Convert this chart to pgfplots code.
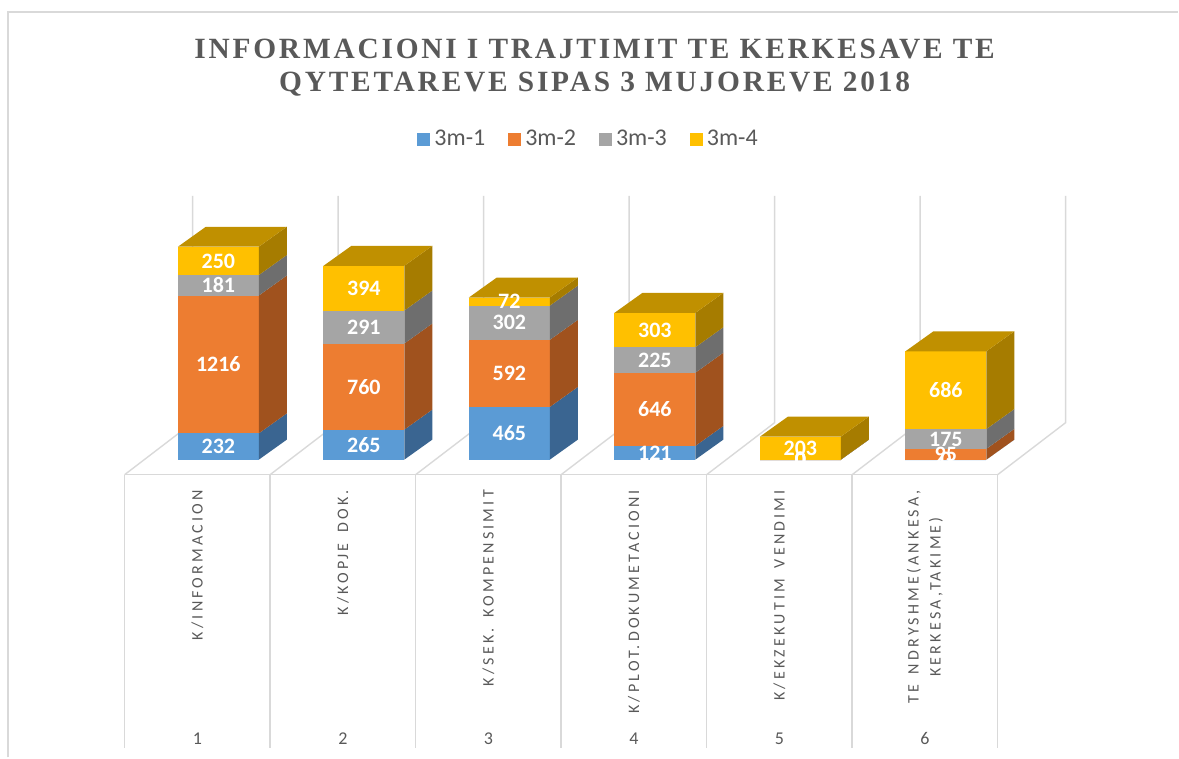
\documentclass[border=0pt]{standalone}
\usepackage{pgfplots}
\usepackage{pgfplotstable}
\pgfplotsset{compat=1.18}
\usepackage{fontspec}
\setmainfont{Carlito}
\newfontfamily\titlefont[LetterSpace=9.5]{Liberation Serif}
\newfontfamily\catfont[LetterSpace=20,WordSpace=1.6]{Carlito}

\definecolor{c1}{HTML}{5B9BD5}
\definecolor{c1s}{HTML}{3A6591}
\definecolor{c2}{HTML}{ED7D31}
\definecolor{c2s}{HTML}{A0521E}
\definecolor{c3}{HTML}{A5A5A5}
\definecolor{c3s}{HTML}{6E6E6E}
\definecolor{c4}{HTML}{FFC000}
\definecolor{c4s}{HTML}{A67C00}
\definecolor{c4t}{HTML}{C09000}
\definecolor{gridc}{HTML}{D9D9D9}
\definecolor{txt}{HTML}{595959}

\pgfplotstableread{
cat s1 s2 s3 s4
1 232 1216 181 250
2 265 760 291 394
3 465 592 302 72
4 121 646 225 303
5 0 0 0 203
6 0 95 175 686
}\data

% one stacked segment: xl xr xs ylo yhi front side
\newcommand\seg[7]{%
  \pgfmathsetmacro\ylo{#4}\pgfmathsetmacro\yhi{#5}%
  \pgfmathsetmacro\ylos{#4+176.4}\pgfmathsetmacro\yhis{#5+176.4}%
  \edef\tmp{%
    \noexpand\addplot[fill=#6, draw=none, forget plot] coordinates {(#1,\ylo) (#2,\ylo) (#2,\yhi) (#1,\yhi)};
    \noexpand\addplot[fill=#7, draw=none, forget plot] coordinates {(#2,\ylo) (#3,\ylos) (#3,\yhis) (#2,\yhi)};
  }\tmp}
% label: x ylo yhi value
\newcommand\lab[4]{%
  \pgfmathsetmacro\ym{(#2+#3)/2}%
  \edef\tmp{\noexpand\node[text=white, font=\noexpand\bfseries\noexpand\fontsize{11}{13}\noexpand\selectfont, inner sep=0pt] at (axis cs:#1,\ym) {#4};}\tmp}

\begin{document}
\begin{tikzpicture}
\begin{axis}[
  x=72.8pt, y=0.0567pt,
  xmin=-0.3565, xmax=7.741, ymin=-2627.9, ymax=4056.4,
  hide axis, clip=false,
  legend style={at={(rel axis cs:0.5004,0.816)}, anchor=center, draw=none, fill=none,
    legend columns=4, font=\fontsize{12}{14}\selectfont, text=txt,
    /tikz/every even column/.append style={column sep=9.5pt}},
  legend image code/.code={\fill[#1] (0pt,-3.25pt) rectangle (6.5pt,3.25pt);},
]
\path (rel axis cs:0,0) rectangle (rel axis cs:1,1);
% frame
\draw[gridc, line width=0.8pt] (axis cs:-0.3015,-2627.9) -- (axis cs:-0.3015,3950.6) -- (axis cs:7.741,3950.6);
% floor and back wall
\pgfplotsinvokeforeach {0,...,6} {
  \draw[gridc, line width=0.7pt] (axis cs:0.5+#1,-132.3) -- (axis cs:0.967+#1,326.3) -- (axis cs:0.967+#1,2328);
  \draw[gridc, line width=0.7pt] (axis cs:0.5+#1,-132.3) -- (axis cs:0.5+#1,-2540);
}
\draw[gridc, line width=0.7pt] (axis cs:0.5,-132.3) -- (axis cs:6.5,-132.3);

\addlegendimage{fill=c1, draw=none}\addlegendentry{3m-1}
\addlegendimage{fill=c2, draw=none}\addlegendentry{3m-2}
\addlegendimage{fill=c3, draw=none}\addlegendentry{3m-3}
\addlegendimage{fill=c4, draw=none}\addlegendentry{3m-4}

\pgfplotsforeachungrouped \r in {0,...,5}{
  \pgfplotstablegetelem{\r}{s1}\of\data \edef\va{\pgfplotsretval}%
  \pgfplotstablegetelem{\r}{s2}\of\data \edef\vb{\pgfplotsretval}%
  \pgfplotstablegetelem{\r}{s3}\of\data \edef\vc{\pgfplotsretval}%
  \pgfplotstablegetelem{\r}{s4}\of\data \edef\vd{\pgfplotsretval}%
  \pgfmathsetmacro\xl{\r+1-0.134}%
  \pgfmathsetmacro\xr{\r+1+0.422}%
  \pgfmathsetmacro\xs{\xr+0.1923}%
  \pgfmathsetmacro\xt{\xl+0.1923}%
  \pgfmathsetmacro\ya{\va}%
  \pgfmathsetmacro\yb{\ya+\vb}%
  \pgfmathsetmacro\yc{\yb+\vc}%
  \pgfmathsetmacro\yd{\yc+\vd}%
  \pgfmathsetmacro\ydt{\yd+176.4}%
  \edef\A{\xl}\edef\B{\xr}\edef\C{\xs}\edef\D{\xt}%
  \edef\YA{\ya}\edef\YB{\yb}\edef\YC{\yc}\edef\YD{\yd}\edef\YT{\ydt}%
  \seg{\A}{\B}{\C}{0}{\YA}{c1}{c1s}%
  \seg{\A}{\B}{\C}{\YA}{\YB}{c2}{c2s}%
  \seg{\A}{\B}{\C}{\YB}{\YC}{c3}{c3s}%
  \seg{\A}{\B}{\C}{\YC}{\YD}{c4}{c4s}%
  \edef\tmp{\noexpand\addplot[fill=c4t, draw=none, forget plot] coordinates {(\A,\YD) (\B,\YD) (\C,\YT) (\D,\YT)};}\tmp
}
\pgfplotsforeachungrouped \r in {0,...,5}{
  \pgfplotstablegetelem{\r}{s1}\of\data \edef\va{\pgfplotsretval}%
  \pgfplotstablegetelem{\r}{s2}\of\data \edef\vb{\pgfplotsretval}%
  \pgfplotstablegetelem{\r}{s3}\of\data \edef\vc{\pgfplotsretval}%
  \pgfplotstablegetelem{\r}{s4}\of\data \edef\vd{\pgfplotsretval}%
  \pgfmathsetmacro\xc{\r+1+0.144}\edef\X{\xc}%
  \pgfmathsetmacro\ya{\va}\edef\YA{\ya}%
  \pgfmathsetmacro\yb{\ya+\vb}\edef\YB{\yb}%
  \pgfmathsetmacro\yc{\yb+\vc}\edef\YC{\yc}%
  \pgfmathsetmacro\yd{\yc+\vd}\edef\YD{\yd}%
  \lab{\X}{0}{\YA}{\va}%
  \lab{\X}{\YA}{\YB}{\vb}%
  \lab{\X}{\YB}{\YC}{\vc}%
  \lab{\X}{\YC}{\YD}{\vd}%
}

% title
\node[align=center, text=txt, font=\titlefont\bfseries\fontsize{14.7}{16.2}\selectfont] at (axis cs:3.73,3460)
  {INFORMACIONI I TRAJTIMIT TE KERKESAVE TE\\QYTETAREVE SIPAS 3 MUJOREVE 2018};

% category labels
\begin{scope}[every node/.style={rotate=90, anchor=east, align=center, text=txt, inner sep=0pt,
    font=\catfont\fontsize{8}{11}\selectfont}]
\node at (axis cs:1,-265) {K/INFORMACION};
\node at (axis cs:2,-265) {K/KOPJE DOK.};
\node at (axis cs:3,-265) {K/SEK. KOMPENSIMIT};
\node at (axis cs:4,-265) {K/PLOT.DOKUMETACIONI};
\node at (axis cs:5,-265) {K/EKZEKUTIM VENDIMI};
\node at (axis cs:6,-265) {TE NDRYSHME(ANKESA,\\KERKESA,TAKIME)};
\end{scope}
\pgfplotsinvokeforeach {1,...,6} {
  \node[text=txt, font=\fontsize{9}{11}\selectfont] at (axis cs:#1,-2460) {#1};
}
\end{axis}
\end{tikzpicture}
\end{document}
